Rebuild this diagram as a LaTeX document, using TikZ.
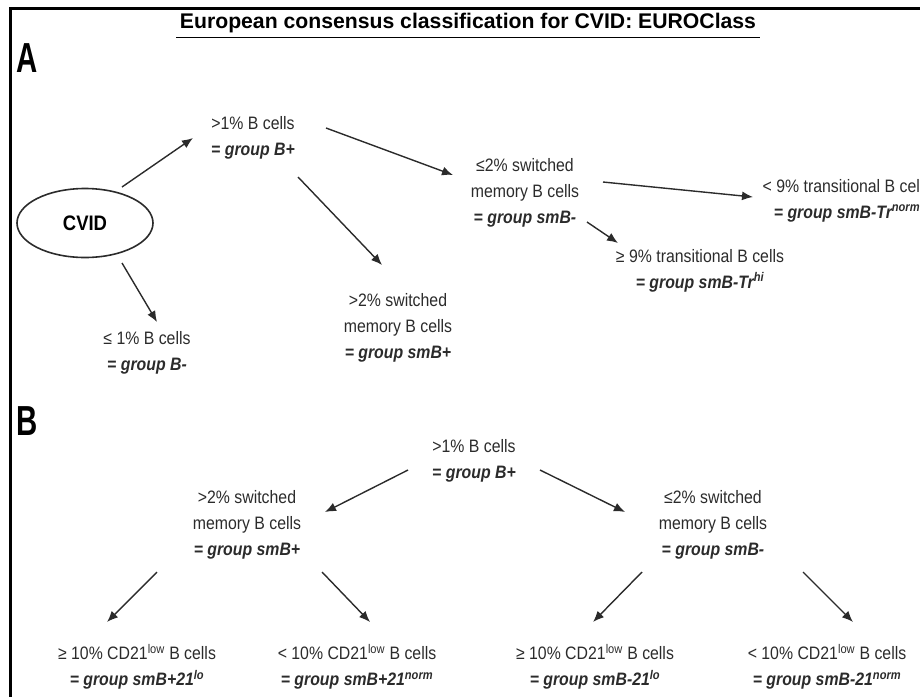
\documentclass[tikz,border=0pt]{standalone}
\usepackage{fontspec}
\setmainfont{Liberation Sans}
\newfontfamily\narrowfont{Liberation Sans}[FakeStretch=0.88]
\newfontfamily\panelfont{Liberation Sans}[FakeStretch=0.7]
\usetikzlibrary{arrows.meta,shapes.geometric}
\definecolor{inkgray}{HTML}{2B2B2B}
\newcommand{\grp}[1]{\textbf{\textit{#1}}}
\tikzset{
    crit/.style={
        align=center,
        text=inkgray,
        inner sep=0pt,
        font=\narrowfont\fontsize{18}{26}\selectfont
        },
    branch/.style={
        -{Latex[length=11pt,width=9pt]},
        line width=1.4pt,
        draw=inkgray
        },
    panel/.style={
        font=\panelfont\bfseries\fontsize{42}{42}\selectfont
        }
}

\begin{document}
\begin{tikzpicture}[x=1pt,y=-1pt]
\useasboundingbox (0,0) rectangle (920,697);
\draw[line width=3pt] (920,8.5) -- (10.5,8.5) -- (10.5,697);

\node[font=\bfseries\fontsize{21.2}{22}\selectfont] (title) at (468,23)
    {European consensus classification for CVID: EUROClass};
\draw[line width=1.6pt] ([yshift=-1pt]title.south west) -- ([yshift=-1pt]title.south east);

% A
\node[panel] (pa) at (27,58) {A};
\node[draw=inkgray, line width=1.6pt, ellipse, minimum width=136, minimum height=69,
    inner sep=0pt, font=\narrowfont\bfseries\fontsize{21}{21}\selectfont] (cvid) at (85,223) {CVID};
\node[crit] (bplus) at (253,137.5) {>1\% B cells\\\grp{= group B+}};
\node[crit] (bminus) at (147,352.5) {≤ 1\% B cells\\\grp{= group B-}};
\node[crit] (smbplus) at (398,327.5) {>2\% switched\\memory B cells\\\grp{= group smB+}};
\node[crit] (smbminus) at (525,192.5) {≤2\% switched\\memory B cells\\\grp{= group smB-}};
\node[crit] (trnorm) at (847,200.5) {< 9\% transitional B cells\\\grp{= group smB-Tr\textsuperscript{norm}}};
\node[crit] (trhi) at (700,270.5) {≥ 9\% transitional B cells\\\grp{= group smB-Tr\textsuperscript{hi}}};

\draw[branch] ([shift={(37,-36)}]cvid.center) -- ([shift={(-60,0.5)}]bplus.center);
\draw[branch] ([shift={(37,40)}]cvid.center) -- ([shift={(10,-30.5)}]bminus.center);
\draw[branch] ([shift={(45,39.5)}]bplus.center) -- ([shift={(-16,-62.5)}]smbplus.center);
\draw[branch] ([shift={(73,-9.5)}]bplus.center) -- ([shift={(-72,-17.5)}]smbminus.center);
\draw[branch] ([shift={(78,-10.5)}]smbminus.center) -- ([shift={(-94,-3.5)}]trnorm.center);
\draw[branch] ([shift={(62,29.5)}]smbminus.center) -- ([shift={(-82,-27.5)}]trhi.center);

% B
\node[panel] (pb) at (27,421) {B};
\node[crit] (bplusB) at (474,461) {>1\% B cells\\\grp{= group B+}};
\node[crit] (smbplusB) at (247,525) {>2\% switched\\memory B cells\\\grp{= group smB+}};
\node[crit] (smbminusB) at (713,525) {≤2\% switched\\memory B cells\\\grp{= group smB-}};
\node[crit] (loplus) at (137,666.5) {≥ 10\% CD21\textsuperscript{low} B cells\\\grp{= group smB+21\textsuperscript{lo}}};
\node[crit] (normplus) at (357,666.5) {< 10\% CD21\textsuperscript{low} B cells\\\grp{= group smB+21\textsuperscript{norm}}};
\node[crit] (lominus) at (595,666.5) {≥ 10\% CD21\textsuperscript{low} B cells\\\grp{= group smB-21\textsuperscript{lo}}};
\node[crit] (normminus) at (827,666.5) {< 10\% CD21\textsuperscript{low} B cells\\\grp{= group smB-21\textsuperscript{norm}}};

\draw[branch] ([shift={(-66,9)}]bplusB.center) -- ([shift={(78,-13)}]smbplusB.center);
\draw[branch] ([shift={(66,9)}]bplusB.center) -- ([shift={(-88,-13)}]smbminusB.center);
\draw[branch] ([shift={(-90,47)}]smbplusB.center) -- ([shift={(-30,-44.5)}]loplus.center);
\draw[branch] ([shift={(75,47)}]smbplusB.center) -- ([shift={(13,-44.5)}]normplus.center);
\draw[branch] ([shift={(-71,47)}]smbminusB.center) -- ([shift={(-2,-44.5)}]lominus.center);
\draw[branch] ([shift={(90,47)}]smbminusB.center) -- ([shift={(26,-44.5)}]normminus.center);
\end{tikzpicture}
\end{document}
